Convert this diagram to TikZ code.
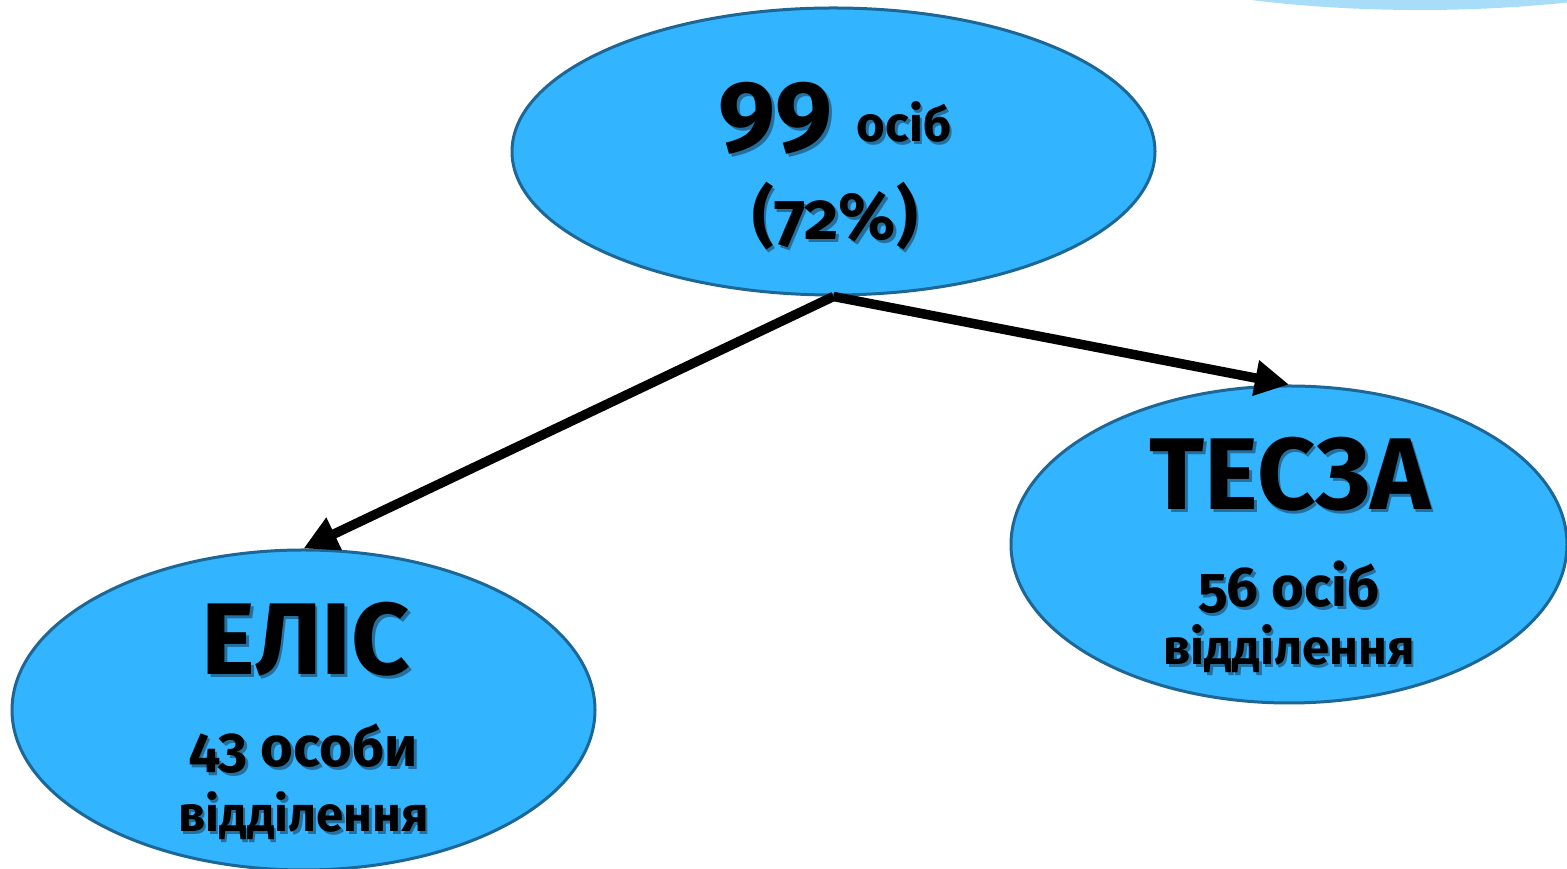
\documentclass[tikz,border=0pt]{standalone}
\usepackage{fontspec}
\setmainfont{Fira Sans}[Numbers=OldStyle]
\usetikzlibrary{shapes.geometric,arrows.meta}
\definecolor{fillblue}{HTML}{33B4FF}
\definecolor{edgeblue}{HTML}{1D6796}
\definecolor{paleblue}{HTML}{A8DDFA}
\definecolor{shadeblue}{HTML}{23709F}
% text with a small shadow down and to the right
\newcommand{\shadowed}[1]{\rlap{\kern0.7pt\raisebox{-0.7pt}{\color{shadeblue}#1}}#1}
\tikzset{
  group/.style={ellipse, draw=edgeblue, fill=fillblue, line width=0.03cm, inner sep=0pt},
  link/.style={line width=0.095cm, -{Triangle[length=0.34cm,width=0.34cm]}},
  namebig/.style={anchor=base, inner sep=0pt, font=\fontsize{29}{29}\selectfont\bfseries},
  countline/.style={anchor=base, inner sep=0pt, font=\fontsize{16}{16}\selectfont\bfseries},
  unitline/.style={anchor=base, inner sep=0pt, font=\fontsize{14}{14}\selectfont\bfseries}
}
\begin{document}
\begin{tikzpicture}
            \useasboundingbox (0,0) rectangle (15.670000,8.690000);
            \clip (0,0) rectangle (15.670000,8.690000);

            % Pale arc at the top right corner
            \fill [paleblue] (14.200000,9.660000) ellipse (4.000000 and 1.070000);%

            % Drawing the three groups
            \node [group, minimum width=6.430000cm, minimum height=2.870000cm] (top) at (8.335000,7.175000) {};%
            \node [group, minimum width=5.560000cm, minimum height=3.170000cm] (tesza) at (12.890000,3.245000) {};%
            \node [group, minimum width=5.830000cm, minimum height=3.200000cm] (elis) at (3.035000,1.590000) {};%

            % Arrows from the top group
            \draw [link] (top.south) -- (tesza.north);%
            \draw [link] (top.south) -- (elis.north);%

            % Texts of the top group
            \node [anchor=base, inner sep=0pt] (toptotal) at ([xshift=0.015cm,yshift=0.095cm]top.center)
              {\bfseries\shadowed{\fontsize{29}{29}\selectfont 99}\ \shadowed{\fontsize{14}{14}\selectfont осіб}};%
            \node [anchor=base, inner sep=0pt, font=\fontsize{19}{19}\selectfont\bfseries] (topshare) at ([xshift=0.015cm,yshift=-0.885cm]top.center) {\shadowed{(72\%)}};%

            % Texts of TESZA
            \node [namebig] (teszaname) at ([xshift=0.010cm,yshift=0.345cm]tesza.center) {\shadowed{ТЕСЗА}};%
            \node [countline] (teszacount) at ([yshift=-0.625cm]tesza.center) {\shadowed{56 осіб}};%
            \node [unitline] (teszaunit) at ([yshift=-1.205cm]tesza.center) {\shadowed{відділення}};%

            % Texts of ELIS
            \node [namebig] (elisname) at ([xshift=0.025cm,yshift=0.350cm]elis.center) {\shadowed{ЕЛІС}};%
            \node [countline] (eliscount) at ([yshift=-0.570cm]elis.center) {\shadowed{43 особи}};%
            \node [unitline] (elisunit) at ([yshift=-1.220cm]elis.center) {\shadowed{відділення}};%
\end{tikzpicture}
\end{document}
